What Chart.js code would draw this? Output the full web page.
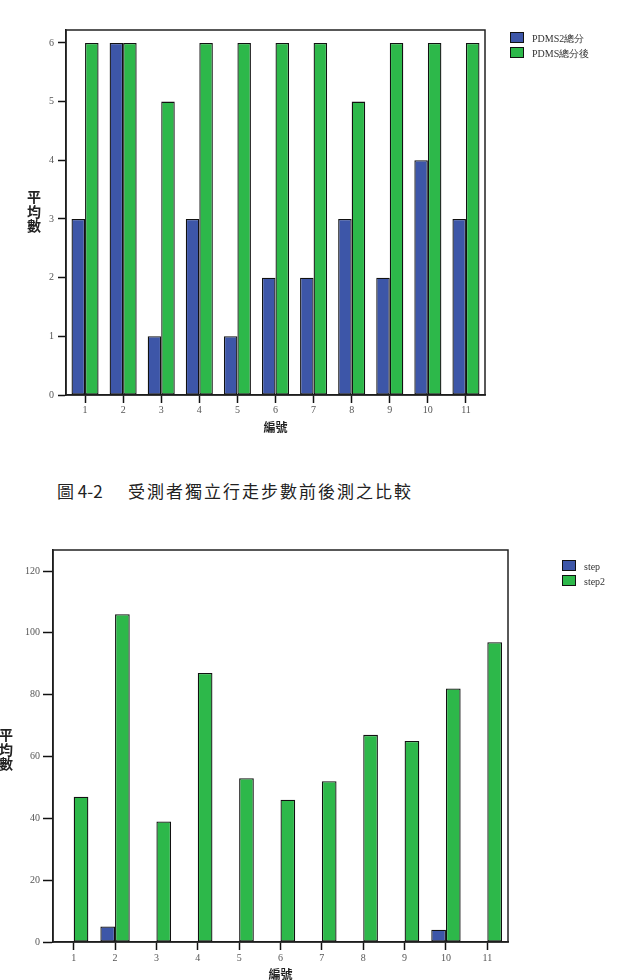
<!DOCTYPE html>
<html>
<head>
<meta charset="utf-8">
<script src="https://cdn.jsdelivr.net/npm/chart.js@4.4.0/dist/chart.umd.min.js"></script>
<style>
  body { margin: 0; background: #fff; width: 623px; height: 980px; position: relative; overflow: hidden; }
  canvas { position: absolute; left: 0; }
  .ytitle { position: absolute; font: bold 14px "Noto Sans CJK TC", sans-serif; line-height: 14.5px; width: 18px; text-align: center; color: #222; }
  .legend { position: absolute; font: 10px "Liberation Serif", serif; color: #333; }
  .legend div { height: 15px; line-height: 15px; white-space: nowrap; }
  .legend span { display: inline-block; width: 12px; height: 9px; border: 1px solid #111; margin-right: 8px; vertical-align: -1px; }
  .caption { position: absolute; top: 478px; font: 17px "Noto Sans CJK TC", sans-serif; color: #222; white-space: nowrap; }
</style>
</head>
<body>
<canvas id="pdmsChart" width="623" height="445" style="top:0"></canvas>
<div class="ytitle" style="left:25px;top:189px">平<br>均<br>數</div>
<div class="legend" id="pdmsLegend" style="left:510px;top:31px"></div>

<div class="caption" style="left:57px">圖 4-2</div>
<div class="caption" style="left:128px;letter-spacing:2px">受測者獨立行走步數前後測之比較</div>

<canvas id="stepChart" width="623" height="460" style="top:520px"></canvas>
<div class="ytitle" style="left:-3px;top:727px">平<br>均<br>數</div>
<div class="legend" id="stepLegend" style="left:562px;top:559px"></div>

<script>
// 編號 1..11
const ids = ['1', '2', '3', '4', '5', '6', '7', '8', '9', '10', '11'];

// chart 1: PDMS total before / after
const pdmsNames = ['PDMS2總分', 'PDMS總分後'];
const pdmsBefore = [3, 6, 1, 3, 1, 2, 2, 3, 2, 4, 3];
const pdmsAfter = [6, 6, 5, 6, 6, 6, 6, 5, 6, 6, 6];
const pdmsTicks = [0, 1, 2, 3, 4, 5, 6];

// chart 2: independent walking steps before / after
const stepNames = ['step', 'step2'];
const stepBefore = [0, 5, 0, 0, 0, 0, 0, 0, 0, 4, 0];
const stepAfter = [47, 106, 39, 87, 53, 46, 52, 67, 65, 82, 97];
const stepTicks = [0, 20, 40, 60, 80, 100, 120];

const BLUE = '#3D56A8';
const GREEN = '#2DB84A';

// frame around the plot area
const boxPlugin = {
  id: 'box',
  afterDraw(chart) {
    const { ctx, chartArea: a } = chart;
    ctx.save();
    ctx.strokeStyle = '#222';
    ctx.lineWidth = 1.5;
    ctx.strokeRect(a.left, a.top, a.right - a.left, a.bottom - a.top);
    ctx.restore();
  }
};

const makeChart = (id, names, before, after, ticks, max, cfg) => {
  const tickFont = { family: 'Liberation Serif', size: 10 };
  const bar = { borderColor: '#111', borderWidth: 1.3, borderSkipped: false };
  return new Chart(document.getElementById(id), {
    type: 'bar',
    data: {
      labels: ids,
      datasets: [
        { label: names[0], data: before, backgroundColor: BLUE, ...bar },
        { label: names[1], data: after, backgroundColor: GREEN, ...bar },
      ],
    },
    options: {
      responsive: false,
      animation: false,
      categoryPercentage: 0.71,
      barPercentage: 1,
      layout: { padding: cfg.padding },
      plugins: { legend: { display: false }, tooltip: { enabled: false } },
      scales: {
        x: {
          grid: { offset: false, drawOnChartArea: false, tickLength: 8, tickColor: '#111', tickWidth: 1.5 },
          border: { color: '#111', width: 1.5 },
          ticks: { font: tickFont, color: '#555', padding: cfg.xPad, maxRotation: 0 },
          title: { display: true, text: '編號', font: { family: 'Noto Sans CJK TC', size: 12, weight: 'bold', lineHeight: 1 }, color: '#222', padding: { top: 0, bottom: cfg.titlePad } },
          afterFit: s => { s.height = cfg.xHeight; },
        },
        y: {
          min: 0,
          max: max,
          afterBuildTicks: s => { s.ticks = ticks.map(v => ({ value: v })); },
          grid: { drawOnChartArea: false, tickLength: cfg.yTick, tickColor: '#111', tickWidth: 1.5 },
          border: { color: '#111', width: 1.5 },
          ticks: { font: tickFont, color: '#555', padding: cfg.yPad },
          afterFit: s => { s.width = cfg.yWidth; },
        },
      },
    },
    plugins: [boxPlugin],
  });
};

makeChart('pdmsChart', pdmsNames, pdmsBefore, pdmsAfter, pdmsTicks, 6.22,
  { padding: { top: 30, right: 138, left: 0, bottom: 0 }, xHeight: 50, yWidth: 66, xPad: 1, yPad: 4, yTick: 8, titlePad: 12 });
makeChart('stepChart', stepNames, stepBefore, stepAfter, stepTicks, 126.8,
  { padding: { top: 30, right: 115, left: 0, bottom: 0 }, xHeight: 38, yWidth: 53, xPad: 2, yPad: 3, yTick: 10, titlePad: 0 });

// legends
const fillLegend = (id, names) => {
  const el = document.getElementById(id);
  [BLUE, GREEN].forEach((c, i) => {
    const row = document.createElement('div');
    row.innerHTML = '<span style="background:' + c + '"></span>' + names[i];
    el.appendChild(row);
  });
};
fillLegend('pdmsLegend', pdmsNames);
fillLegend('stepLegend', stepNames);
</script>
</body>
</html>
